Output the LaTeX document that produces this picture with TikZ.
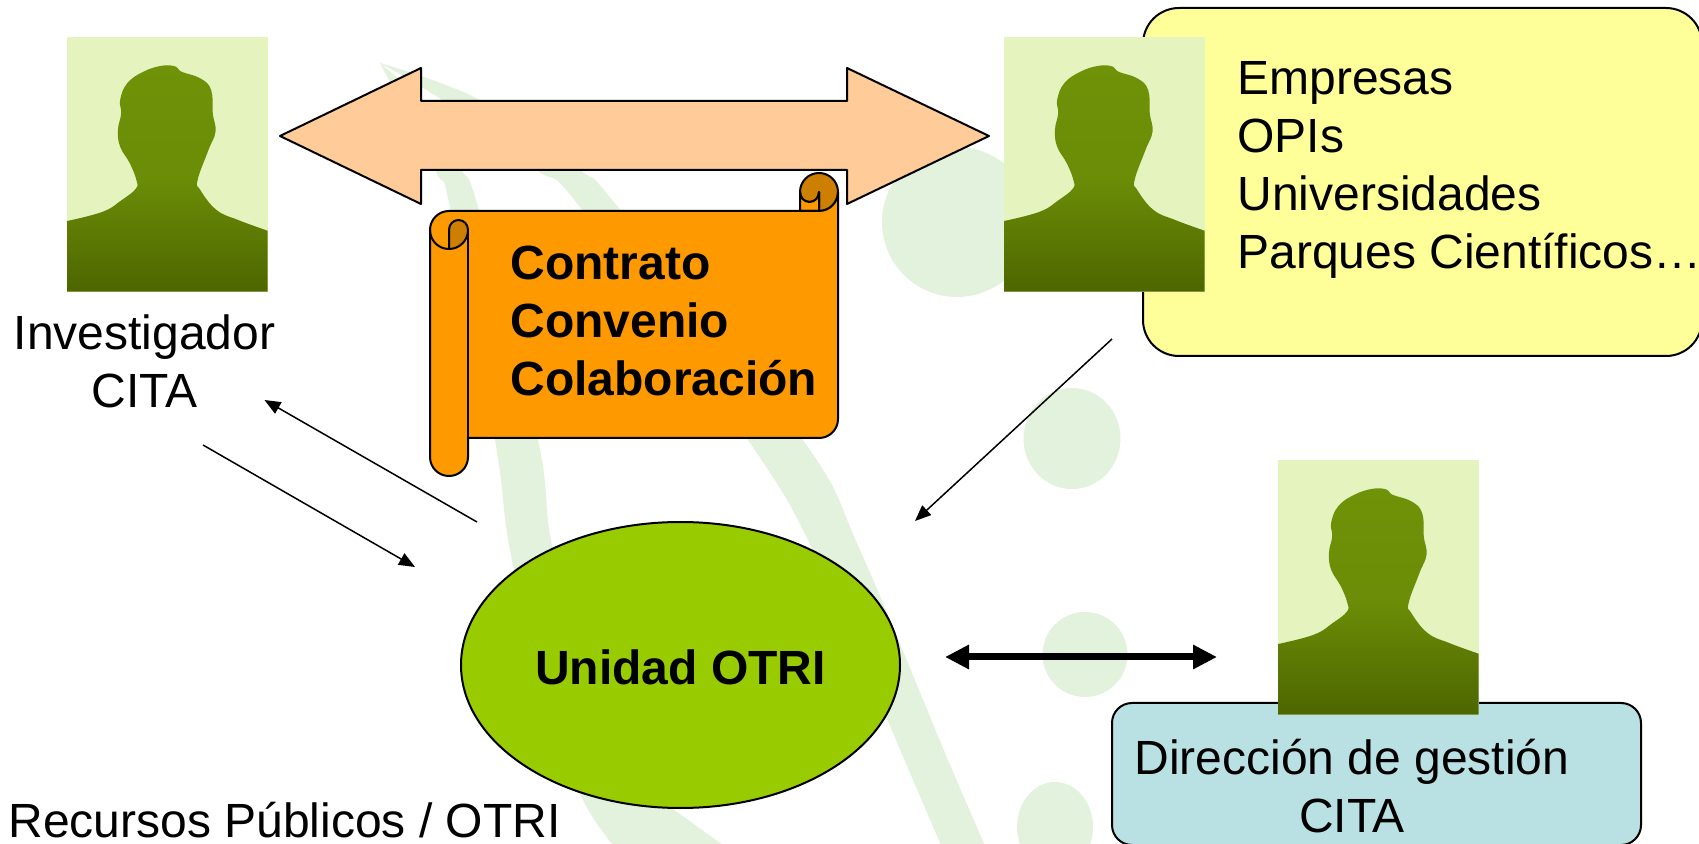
\documentclass[tikz,border=0pt]{standalone}
\usepackage{fontspec}
\setmainfont{Liberation Sans}
\usetikzlibrary{arrows.meta,shapes.geometric}
\definecolor{wm}{HTML}{E3F2DD}
\definecolor{photobg}{HTML}{E5F3BF}
\definecolor{headc}{HTML}{6F9208}
\definecolor{footc}{HTML}{4D6600}
\definecolor{peach}{HTML}{FFCC99}
\definecolor{scrollc}{HTML}{FF9900}
\definecolor{scrolld}{HTML}{CC7F00}
\definecolor{otric}{HTML}{99CC00}
\definecolor{yellowc}{HTML}{FFFF99}
\definecolor{bluec}{HTML}{B9E0E3}
\tikzset{
  lab/.style={font=\fontsize{24}{29}\selectfont,inner sep=0pt,text=black},
  labb/.style={lab,font=\fontsize{24}{29}\selectfont\bfseries},
  edge/.style={draw=black,line width=1pt,line join=round},
  thin arrow/.style={draw=black,line width=0.75pt,-{Triangle[length=8pt,width=6.5pt]}},
  thick arrow/.style={draw=black,line width=3.5pt,{Triangle[length=12pt,width=11.5pt]}-{Triangle[length=12pt,width=11.5pt]}},
  person/.pic={
    \begin{scope}[x=0.2710pt,y=-0.1667pt]
      \fill[photobg] (0,0) rectangle (370,764);
      \shade[top color=headc,bottom color=footc,middle color=headc!88!footc]
        plot[smooth,tension=.7] coordinates {(0,552) (66,524) (101,489) (127,455) (128,429) (116,379) (98,329) (94,279) (100,229) (98,189) (111,139) (141,104) (176,86) (201,89) (211,104) (246,124) (266,159) (269,229) (274,284) (261,339) (241,429) (246,459) (276,519) (316,549) (370,581)}
        -- (370,764) -- (0,764) -- cycle;
    \end{scope}
  }
}
\begin{document}
\begin{tikzpicture}[x=0.5pt,y=-0.5pt]
\useasboundingbox (0,0) rectangle (1699,844);
\fill[white] (0,0) rectangle (1699,844);
\begin{scope}
\clip (0,0) rectangle (1699,844);
% watermark
\fill[wm] plot[smooth,tension=.6] coordinates {(380,63) (435,170) (450,207) (495,440) (510,550) (545,700) (583,800) (617,850)}
  -- (730,850) -- plot[smooth,tension=.6] coordinates {(670,807) (600,710) (553,550) (538,440) (478,207) (462,170) (440,120) (380,63)} -- cycle;
\fill[wm] plot[smooth,tension=.6] coordinates {(380,63) (480,100) (580,170) (618,207) (803,440) (860,550) (948,760) (987,850)}
  -- (943,850) -- plot[smooth,tension=.6] coordinates {(893,733) (813,550) (748,440) (580,207) (537,170) (450,105) (380,63)} -- cycle;
\fill[wm] (957,222) ellipse [x radius=75,y radius=75];
\fill[wm] (1072,438.5) ellipse [x radius=48.5,y radius=50.5];
\fill[wm] (1085,654.5) ellipse [x radius=42.5,y radius=42.5];
\fill[wm] (1055,827) ellipse [x radius=38,y radius=45];
% boxes
\node[edge,fill=yellowc,rounded corners=18pt,minimum width=279.5pt,minimum height=174pt,inner sep=0pt,anchor=north west] (partners) at (1142,7) {};
\node[edge,fill=bluec,rounded corners=10pt,minimum width=264.5pt,minimum height=71pt,inner sep=0pt,anchor=north west] (gestion) at (1111,702) {};
\end{scope}
% photos
\pic (p1) at (67,37) {person};
\pic (p2) at (1004,37) {person};
\pic (p3) at (1278,460) {person};
% big double arrow
\draw[edge,fill=peach] (280,136) -- (421,68) -- (421,101) -- (847,101) -- (847,68) -- (989,136) -- (847,204) -- (847,170) -- (421,170) -- (421,204) -- cycle;
% scroll
\draw[edge,fill=scrolld] (800,192) .. controls (800,181.5) and (808.5,173) .. (819,173) .. controls (829.5,173) and (838,181.5) .. (838,192) .. controls (838,202.5) and (829.5,211) .. (819,211) -- (819,192) .. controls (819,197.5) and (815,202) .. (809.5,202) .. controls (804,202) and (800,197.5) .. (800,192) -- cycle;
\draw[edge,fill=scrollc] (800,192) -- (800,211) -- (819,211) -- (819,192) .. controls (819,197.5) and (815,202) .. (809.5,202) .. controls (804,202) and (800,197.5) .. (800,192) -- cycle;
\draw[edge,fill=scrollc] (449,211) -- (819,211) .. controls (829.5,211) and (838,202.5) .. (838,192) -- (838,419) .. controls (838,429.5) and (829.5,438) .. (819,438) -- (468,438) -- (468,457) .. controls (468,467.5) and (459.5,476) .. (449,476) .. controls (438.5,476) and (430,467.5) .. (430,457) -- (430,230) .. controls (430,219.5) and (438.5,211) .. (449,211) -- cycle;
\draw[edge,fill=scrolld] (449,249) -- (449,230) .. controls (449,224.5) and (453,220) .. (458.5,220) .. controls (464,220) and (468,224.5) .. (468,230) .. controls (468,240.5) and (459.5,249) .. (449,249) -- cycle;
\draw[edge] (430,230) .. controls (430,240.5) and (438.5,249) .. (449,249);
\draw[edge] (468,230) -- (468,438);
% OTRI
\node[edge,ellipse,fill=otric,minimum width=219.5pt,minimum height=143pt,inner sep=0pt] (otri) at (680.5,665) {};
% connector end points
\coordinate (a1s) at (477,522); \coordinate (a1e) at (264.5,400);
\coordinate (a2s) at (203,445); \coordinate (a2e) at (415,567);
\coordinate (a3s) at (1112,339); \coordinate (a3e) at (915,521);
\coordinate (a4s) at (945,657); \coordinate (a4e) at (1217,657);
\draw[thin arrow] (a1s) -- (a1e);
\draw[thin arrow] (a2s) -- (a2e);
\draw[thin arrow] (a3s) -- (a3e);
\draw[thick arrow] (a4s) -- (a4e);
% texts
\node[labb,anchor=base] (otril) at (680.5,684) {Unidad OTRI};
\node[lab,align=center,anchor=base] (inv) at (144.5,408) {Investigador\\CITA};
\node[labb,align=left,anchor=base west] (contrato) at (510,396) {Contrato\\Convenio\\Colaboración};
\node[lab,align=left,anchor=base west] (emp) at (1237,269) {Empresas\\OPIs\\Universidades\\Parques Científicos…};
\node[lab,anchor=base west] (rec) at (8,837) {Recursos Públicos / OTRI};
\node[lab,align=center,anchor=base] (dir) at (1352,832) {Dirección de gestión\\CITA};
\end{tikzpicture}
\end{document}
